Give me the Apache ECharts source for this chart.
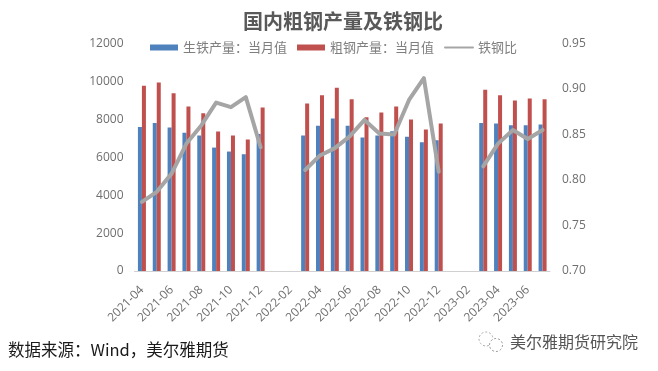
<!DOCTYPE html>
<html>
<head>
<meta charset="utf-8">
<style>html,body{margin:0;padding:0;background:#fff}</style>
<script src="https://cdn.jsdelivr.net/npm/echarts@6/dist/echarts.min.js"></script>
</head>
<body>
<div id="chart" style="width:658px;height:371px"></div>
<script>
var months = ['2021-04','2021-05','2021-06','2021-07','2021-08','2021-09','2021-10','2021-11','2021-12',
  '2022-01','2022-02','2022-03','2022-04','2022-05','2022-06','2022-07','2022-08','2022-09','2022-10','2022-11','2022-12',
  '2023-01','2023-02','2023-03','2023-04','2023-05','2023-06','2023-07'];
var ironOutput = [7600,7810,7570,7290,7150,6510,6300,6160,7220,
  null,null,7150,7660,8040,7660,7040,7150,7370,7075,6790,6900,
  null,null,7810,7780,7690,7690,7725];
var steelOutput = [9770,9940,9380,8680,8320,7360,7150,6930,8620,
  null,null,8830,9275,9660,9060,8110,8360,8680,7990,7460,7780,
  null,null,9560,9275,8990,9100,9060];
var ironSteelRatio = [0.776,0.787,0.807,0.840,0.860,0.885,0.880,0.891,0.836,
  null,null,0.811,0.827,0.835,0.848,0.866,0.851,0.850,0.888,0.912,0.809,
  null,null,0.815,0.840,0.855,0.845,0.855];

var cjk = '"Noto Sans CJK SC", sans-serif';
var chart = echarts.init(document.getElementById('chart'));
chart.setOption({
  animation: false,
  backgroundColor: '#fff',
  title: {
    text: '国内粗钢产量及铁钢比',
    left: 338,
    top: 6,
    textAlign: 'center',
    textStyle: { fontFamily: cjk, fontSize: 20, fontWeight: 'bold', color: '#595959' }
  },
  legend: {
    left: 145,
    top: 36,
    itemWidth: 28,
    itemHeight: 6,
    itemGap: 10,
    textStyle: { fontFamily: cjk, fontSize: 13, color: '#7f7f7f' },
    data: [
      { name: '生铁产量：当月值', icon: 'rect' },
      { name: '粗钢产量：当月值', icon: 'rect' },
      { name: '铁钢比', itemStyle: { opacity: 0 } }
    ]
  },
  grid: { left: 134.5, right: 108, top: 43.5, bottom: 100 },
  xAxis: {
    type: 'category',
    data: months,
    axisLine: { lineStyle: { color: '#d0d0d0' } },
    axisTick: { interval: 1, length: 4, lineStyle: { color: '#d0d0d0' } },
    axisLabel: {
      interval: 1,
      rotate: 45,
      margin: 17,
      fontFamily: '"Open Sans", sans-serif',
      fontSize: 12,
      color: '#6f6f6f'
    }
  },
  yAxis: [
    {
      type: 'value',
      min: 0,
      max: 12000,
      interval: 2000,
      axisLine: { show: false },
      axisTick: { show: false },
      splitLine: { show: false },
      axisLabel: {
        margin: 11,
        fontFamily: '"Open Sans", sans-serif',
        fontSize: 12,
        color: '#6f6f6f',
        formatter: function (v) { return String(v); }
      }
    },
    {
      type: 'value',
      min: 0.70,
      max: 0.95,
      interval: 0.05,
      axisLine: { show: false },
      axisTick: { show: false },
      splitLine: { show: false },
      axisLabel: {
        margin: 12,
        fontFamily: '"Open Sans", sans-serif',
        fontSize: 12,
        color: '#6f6f6f',
        formatter: function (v) { return v.toFixed(2); }
      }
    }
  ],
  series: [
    {
      name: '生铁产量：当月值',
      type: 'bar',
      data: ironOutput,
      barWidth: 4,
      barGap: 0,
      itemStyle: { color: '#4f81bd' }
    },
    {
      name: '粗钢产量：当月值',
      type: 'bar',
      data: steelOutput,
      barWidth: 4,
      barGap: 0,
      itemStyle: { color: '#c0504d' }
    },
    {
      name: '铁钢比',
      type: 'line',
      yAxisIndex: 1,
      data: ironSteelRatio,
      symbol: 'none',
      connectNulls: false,
      lineStyle: { color: '#a5a5a5', width: 4, cap: 'round', join: 'round' },
      itemStyle: { color: '#a5a5a5' },
      z: 5
    }
  ],
  graphic: [
    {
      type: 'text', left: 8, top: 341,
      style: { text: '数据来源：Wind，美尔雅期货', fontFamily: cjk, fontSize: 16.5, fill: '#1a1a1a' }
    },
    {
      type: 'text', left: 510, top: 334,
      style: { text: '美尔雅期货研究院', fontFamily: cjk, fontSize: 16, fill: '#555' }
    },
    {
      type: 'circle', shape: { cx: 486, cy: 339, r: 7 },
      style: { fill: 'none', stroke: '#aaa', lineWidth: 1, lineDash: [2, 2] }
    },
    {
      type: 'circle', shape: { cx: 496, cy: 345, r: 6.5 },
      style: { fill: '#fff', stroke: '#999', lineWidth: 1, lineDash: [2, 2] }
    }
  ]
});
</script>
</body>
</html>
